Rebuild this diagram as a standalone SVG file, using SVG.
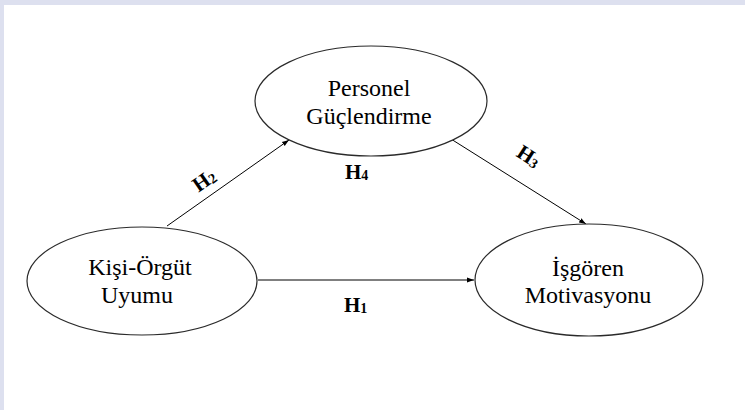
<svg xmlns="http://www.w3.org/2000/svg" width="745" height="410" viewBox="0 0 745 410">
  <style>
    .node ellipse { fill: #ffffff; stroke: #2a2a2a; stroke-width: 1.2; }
    .node text { font-family: "Liberation Serif", "Times New Roman", serif; font-size: 24px; fill: #000; text-anchor: middle; }
    .conn line { stroke: #000; stroke-width: 1; marker-end: url(#arrow); }
    .lbl { font-family: "Liberation Serif", "Times New Roman", serif; font-size: 21px; font-weight: bold; fill: #000; }
    .sub { font-size: 14px; }
  </style>
  <defs>
    <marker id="arrow" viewBox="0 0 10 10" refX="10" refY="5" markerWidth="7" markerHeight="7" markerUnits="userSpaceOnUse" orient="auto">
      <path d="M0,1.5 L10,5 L0,8.5 z" fill="#000"/>
    </marker>
  </defs>
  <rect x="0" y="0" width="745" height="410" fill="#ffffff"/>
  <rect x="0" y="0" width="745" height="5" fill="#dde0ef"/>
  <rect x="0" y="0" width="4" height="410" fill="#dde0ef"/>

  <g id="connectors" class="conn">
    <line x1="258" y1="280" x2="474" y2="280"/>
    <line x1="167" y1="226" x2="289" y2="140"/>
    <line x1="451" y1="139" x2="586" y2="224"/>
  </g>

  <g id="node-personel" class="node">
    <ellipse cx="371" cy="101" rx="116" ry="55"/>
    <text x="369" y="96">Personel</text>
    <text x="369" y="124">Güçlendirme</text>
  </g>
  <g id="node-kisi" class="node">
    <ellipse cx="142" cy="281" rx="115" ry="54"/>
    <text x="140" y="275">Kişi-Örgüt</text>
    <text x="137" y="303">Uyumu</text>
  </g>
  <g id="node-isgoren" class="node">
    <ellipse cx="589" cy="280" rx="114" ry="56"/>
    <text x="588" y="276">İşgören</text>
    <text x="588" y="303">Motivasyonu</text>
  </g>

  <g id="labels">
    <text class="lbl" x="344" y="312">H<tspan class="sub" dy="1">1</tspan></text>
    <text class="lbl" x="345" y="179">H<tspan class="sub" dy="1">4</tspan></text>
    <text class="lbl" text-anchor="middle" transform="translate(208,186) rotate(-35)">H<tspan class="sub" dy="1">2</tspan></text>
    <text class="lbl" text-anchor="middle" transform="translate(525,162) rotate(33)">H<tspan class="sub" dy="1">3</tspan></text>
  </g>
</svg>
